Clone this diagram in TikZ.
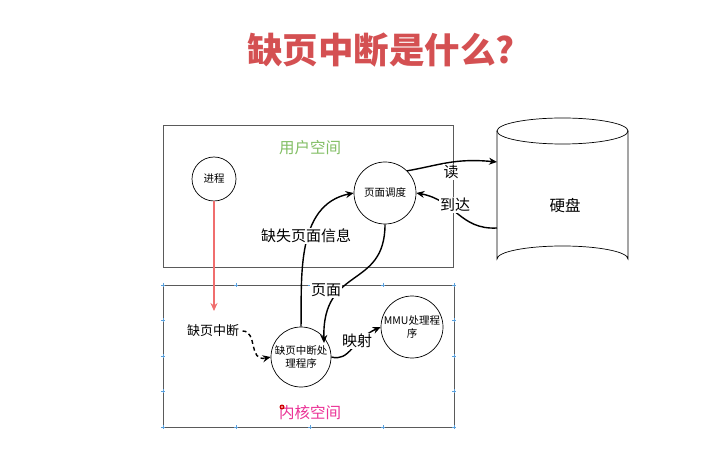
\documentclass[tikz,border=0pt]{standalone}
\usepackage{fontspec}
\setmainfont{Noto Sans CJK SC}
\usetikzlibrary{arrows.meta,shapes.geometric}
\definecolor{titlered}{RGB}{212,80,82}
\definecolor{usergreen}{RGB}{130,190,100}
\definecolor{kernpink}{RGB}{235,50,150}
\definecolor{boxgray}{RGB}{90,90,90}
\definecolor{handleblue}{RGB}{90,160,220}
\definecolor{arrowred}{RGB}{240,110,110}
\tikzset{
  circ/.style={circle,draw,line width=0.7pt,minimum size=#1,inner sep=0pt,align=center,font=\fontsize{10.5}{12.5}\selectfont},
  conn/.style={line width=1.4pt,-{Stealth[length=8pt,width=7pt]}},
  lbl/.style={fill=white,inner sep=1pt,font=\fontsize{15}{17}\selectfont},
  area/.style={draw=boxgray,line width=0.8pt},
  handle/.style={handleblue,line width=0.6pt}
}
\begin{document}
\begin{tikzpicture}[x=1pt,y=-1pt]
\useasboundingbox (0,0) rectangle (728,454);
\fill[white] (0,0) rectangle (728,454);
% title
\node[font=\fontsize{35.5}{40}\selectfont\bfseries,text=titlered] (title) at (381,50) {缺页中断是什么?};
% areas
\draw[area] (163,125) rectangle (453,267);
\node[text=usergreen,font=\fontsize{15.5}{17}\selectfont] (user) at (310,148) {用户空间};
\draw[area] (163,285) rectangle (454,427);
\foreach \x in {163,236,310,383,454}{
  \draw[handle] (\x-2,285) -- (\x+2,285) (\x,283) -- (\x,287);
  \draw[handle] (\x-2,427) -- (\x+2,427) (\x,425) -- (\x,429);}
\foreach \y in {320,356,391}{
  \draw[handle] (161,\y) -- (165,\y) (163,\y-2) -- (163,\y+2);
  \draw[handle] (452,\y) -- (456,\y) (454,\y-2) -- (454,\y+2);}
\node[text=kernpink,font=\fontsize{15.5}{17}\selectfont] (kern) at (310,413) {内核空间};
\fill[red!80!black] (282,407) circle (2.5pt);
\fill[red!30] (282,407) circle (1.2pt);
% disk (cylinder drawn directly)
\draw[line width=0.7pt,fill=white] (497,131) -- (497,259) arc[start angle=180,end angle=360,x radius=65.5,y radius=13] -- (628,131);
\draw[line width=0.7pt] (562.5,131) ellipse[x radius=65.5,y radius=13];
\node[font=\fontsize{15.5}{17}\selectfont] (disk) at (565,206) {硬盘};
\coordinate (diskin) at (497,162);
\coordinate (diskout) at (497,228);
% nodes
\node[circ=44pt] (proc) at (214,179) {进程};
\node[circ=62pt] (sched) at (385,193) {页面调度};
\node[circ=60pt] (handler) at (301,357) {缺页中断处\\理程序};
\node[circ=62pt] (mmu) at (412,327) {MMU处理程\\序};
\node[font=\fontsize{13}{15}\selectfont] (pf) at (213,331) {缺页中断};
% connectors
\coordinate (redend) at (214,311);
\draw[arrowred,line width=1.4pt,-{Stealth[length=8pt,width=7pt]}] (proc) -- (redend);
\draw[line width=1.4pt,dash pattern=on 4pt off 3pt,-{Stealth[length=8pt,width=7pt]}] (pf.east) .. controls (258,331) and (248,362) .. (handler.west);
\draw[conn] (handler.north) .. controls (302,280) and (295,205) .. (sched.west);
\node[lbl] (miss) at (306,236) {缺失页面信息};
\draw[conn] (sched.south) .. controls (385,290) and (322,265) .. (324,343);
\node[lbl] (page) at (326,290) {页面};
\draw[conn] (handler.east) .. controls (350,362) and (352,340) .. (mmu.west);
\node[lbl] (map) at (357,341) {映射};
\draw[conn] (sched.north east) .. controls (440,165) and (455,158) .. (diskin);
\node[lbl] (read) at (451,172) {读};
\draw[conn] (diskout) .. controls (460,230) and (455,200) .. (sched.east);
\node[lbl] (arrive) at (455,205) {到达};
\end{tikzpicture}
\end{document}
